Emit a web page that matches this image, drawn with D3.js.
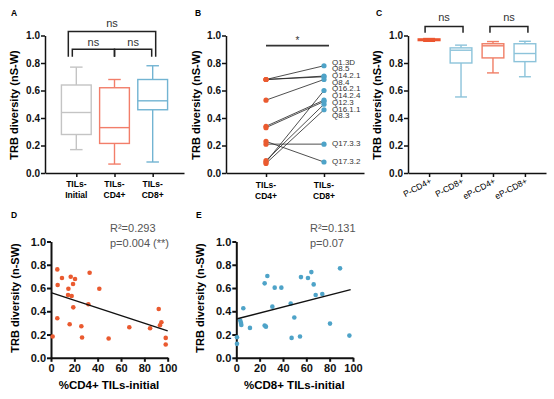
<!DOCTYPE html>
<html>
<head>
<meta charset="utf-8">
<script src="https://cdn.jsdelivr.net/npm/d3@7"></script>
<style>
  body { margin: 0; background: #fff; }
  svg { font-family: Arial, "Liberation Sans", Helvetica, sans-serif; }
</style>
</head>
<body>
<div id="chart"></div>
<script>
// ---- panel A : boxplots
const groupsA = ['TILs-Initial', 'TILs-CD4+', 'TILs-CD8+'];
const minA = [0.17, 0.065, 0.08];
const q1A = [0.28, 0.215, 0.46];
const medA = [0.44, 0.33, 0.525];
const q3A = [0.64, 0.62, 0.68];
const maxA = [0.77, 0.68, 0.78];
const colorsA = ['#c4c4c4', '#f27e6a', '#72b4d2'];

// ---- panel B : paired clones
const clonesB = ['Q1.3D', 'Q8.5', 'Q14.2.1', 'Q8.4', 'Q16.2.1', 'Q14.2.4', 'Q12.3', 'Q16.1.1', 'Q8.3', 'Q17.3.3', 'Q17.3.2'];
const cd4B = [0.68, 0.68, 0.68, 0.53, 0.08, 0.34, 0.33, 0.09, 0.07, 0.21, 0.23];
const cd8B = [0.78, 0.705, 0.70, 0.68, 0.60, 0.53, 0.52, 0.50, 0.46, 0.21, 0.08];
const groupsB = ['TILs-CD4+', 'TILs-CD8+'];

// ---- panel C : boxplots
const groupsC = ['P-CD4+', 'P-CD8+', 'eP-CD4+', 'eP-CD8+'];
const minC = [0.958, 0.553, 0.728, 0.70];
const q1C = [0.963, 0.80, 0.837, 0.81];
const medC = [0.97, 0.893, 0.925, 0.869];
const q3C = [0.975, 0.91, 0.94, 0.94];
const maxC = [0.978, 0.93, 0.956, 0.958];
const colorsC = ['#ec5630', '#8cc3da', '#f07e66', '#8cc3da'];

// ---- panel D : %CD4+ vs diversity
const xD = [1.4, 5.4, 5.7, 5.4, 9.4, 14.9, 14.6, 16.9, 17.7, 18.9, 20.6, 19.1, 16, 26, 26.6, 33.1, 32, 41.4, 49.4, 67.1, 84.9, 92.3, 94.6, 93.4, 98.3, 98.3];
const yD = [0.183, 0.76, 0.626, 0.34, 0.686, 0.594, 0.54, 0.697, 0.531, 0.634, 0.677, 0.434, 0.289, 0.271, 0.174, 0.731, 0.46, 0.594, 0.166, 0.263, 0.254, 0.42, 0.306, 0.28, 0.171, 0.114];
const fitXD = [0, 100];
const fitYD = [0.56, 0.232];

// ---- panel E : %CD8+ vs diversity
const xE = [0.6, 0.6, 3.4, 4, 4.3, 6, 11.7, 24.3, 26.6, 24.3, 25.4, 30.9, 32.9, 38.6, 46.6, 47.4, 49.7, 54.6, 55.4, 61.4, 64.3, 66.3, 68, 73.7, 80.3, 88.9, 96.9];
const yE = [0.177, 0.12, 0.32, 0.30, 0.283, 0.426, 0.257, 0.64, 0.703, 0.277, 0.268, 0.44, 0.603, 0.603, 0.466, 0.171, 0.346, 0.183, 0.694, 0.686, 0.737, 0.631, 0.54, 0.549, 0.294, 0.769, 0.191];
const fitXE = [0, 98];
const fitYE = [0.334, 0.586];

const yTicks = [0, 0.2, 0.4, 0.6, 0.8, 1.0];
const xTicksScatter = [0, 20, 40, 60, 80, 100];
const red = '#ea5a2f', blue = '#4ea3c8';

const svg = d3.select('#chart').append('svg')
  .attr('width', 554)
  .attr('height', 399)
  .style('background', '#fff');

function panelLabel(text, x, y) {
  svg.append('text').attr('x', x).attr('y', y)
    .style('font-size', '8.5px').style('font-weight', 'bold')
    .text(text);
}

function styleAxis(g, width, fontSize) {
  g.select('.domain').attr('stroke', '#111').attr('stroke-width', width);
  g.selectAll('.tick line').attr('stroke', '#111').attr('stroke-width', width);
  g.selectAll('.tick text').attr('fill', '#111')
    .style('font-size', fontSize).style('font-weight', 'bold');
}

function drawYAxis(y, x0, fontSize, width) {
  const g = svg.append('g')
    .attr('transform', 'translate(' + [x0, 0] + ')')
    .call(d3.axisLeft(y).tickValues(yTicks).tickFormat(d3.format('.1f')).tickSize(4).tickSizeOuter(0).tickPadding(1));
  styleAxis(g, width, fontSize);
  return g;
}

function yTitle(text, x, cy, fontSize) {
  svg.append('text')
    .attr('transform', 'translate(' + [x, cy] + ') rotate(-90)')
    .attr('text-anchor', 'middle')
    .attr('dominant-baseline', 'middle')
    .style('font-size', fontSize).style('font-weight', 'bold')
    .text(text);
}

function bracket(x1, x2, yTop, yLeg, label, labelY) {
  svg.append('path')
    .attr('d', 'M' + x1 + ',' + yLeg + 'V' + yTop + 'H' + x2 + 'V' + yLeg)
    .attr('fill', 'none').attr('stroke', '#222').attr('stroke-width', 1.5);
  svg.append('text').attr('x', (x1 + x2) / 2).attr('y', labelY)
    .attr('text-anchor', 'middle')
    .style('font-size', '11px').style('fill', '#333')
    .text(label);
}

// top row shared y scale
const yTop = d3.scaleLinear().domain([0, 1]).range([173, 35.5]);

function boxes(x, groups, mins, q1s, meds, q3s, maxs, colors, boxFrac, capFrac) {
  const step = x.step();
  const bw = step * boxFrac, cw = bw * capFrac;
  const g = svg.append('g').attr('class', 'boxes');
  groups.forEach((grp, i) => {
    const cx = x(grp), c = colors[i];
    const gb = g.append('g').attr('stroke', c).attr('stroke-width', 1.4).attr('fill', 'none');
    gb.append('line').attr('x1', cx).attr('x2', cx).attr('y1', yTop(maxs[i])).attr('y2', yTop(q3s[i]));
    gb.append('line').attr('x1', cx).attr('x2', cx).attr('y1', yTop(q1s[i])).attr('y2', yTop(mins[i]));
    gb.append('line').attr('x1', cx - cw / 2).attr('x2', cx + cw / 2).attr('y1', yTop(maxs[i])).attr('y2', yTop(maxs[i]));
    gb.append('line').attr('x1', cx - cw / 2).attr('x2', cx + cw / 2).attr('y1', yTop(mins[i])).attr('y2', yTop(mins[i]));
    gb.append('rect').attr('x', cx - bw / 2).attr('width', bw)
      .attr('y', yTop(q3s[i])).attr('height', Math.max(yTop(q1s[i]) - yTop(q3s[i]), 1))
      .attr('fill', '#fff');
    gb.append('line').attr('x1', cx - bw / 2).attr('x2', cx + bw / 2).attr('y1', yTop(meds[i])).attr('y2', yTop(meds[i]));
  });
}

// ================= Panel A
panelLabel('A', 11, 16);
const xA = d3.scalePoint().domain(groupsA).range([45, 184]).padding(0.82);
const gxA = svg.append('g').attr('transform', 'translate(0,' + yTop(0) + ')')
  .call(d3.axisBottom(xA).tickSize(4).tickSizeOuter(0).tickFormat(''));
styleAxis(gxA, 1.5, '10px');
drawYAxis(yTop, 45, '10px', 1.5);
yTitle('TRB diversity (nS-W)', 15, 105, '11px');
groupsA.forEach(grp => {
  const parts = grp.split('-');
  const t = svg.append('text').attr('x', xA(grp)).attr('y', 187).attr('text-anchor', 'middle')
    .style('font-size', '8.5px').style('font-weight', 'bold');
  t.append('tspan').attr('x', xA(grp)).attr('dy', 0).text(parts[0] + '-');
  t.append('tspan').attr('x', xA(grp)).attr('dy', 11).text(parts[1]);
});
boxes(xA, groupsA, minA, q1A, medA, q3A, maxA, colorsA, 0.78, 0.42);
bracket(xA(groupsA[0]) - 8, xA(groupsA[2]) + 3, yTop(1.03), yTop(0.845), 'ns', 27);
bracket(xA(groupsA[0]) - 4, xA(groupsA[1]), yTop(0.90), yTop(0.845), 'ns', 46);
bracket(xA(groupsA[1]), xA(groupsA[2]) - 1, yTop(0.90), yTop(0.845), 'ns', 46);

// ================= Panel B
panelLabel('B', 195, 16);
const xB = d3.scalePoint().domain(groupsB).range([226, 364]).padding(0.69);
const gxB = svg.append('g').attr('transform', 'translate(0,' + yTop(0) + ')')
  .call(d3.axisBottom(xB).tickSize(4).tickSizeOuter(0).tickFormat(''));
styleAxis(gxB, 1.5, '10px');
drawYAxis(yTop, 226, '10px', 1.5);
yTitle('TRB diversity (nS-W)', 197, 105, '11px');
groupsB.forEach(grp => {
  const parts = grp.split('-');
  const t = svg.append('text').attr('x', xB(grp)).attr('y', 188).attr('text-anchor', 'middle')
    .style('font-size', '8.5px').style('font-weight', 'bold');
  t.append('tspan').attr('x', xB(grp)).attr('dy', 0).text(parts[0] + '-');
  t.append('tspan').attr('x', xB(grp)).attr('dy', 11).text(parts[1]);
});
const bx0 = xB(groupsB[0]), bx1 = xB(groupsB[1]);
svg.append('g').selectAll('line').data(clonesB).join('line')
  .attr('x1', bx0).attr('x2', bx1)
  .attr('y1', (d, i) => yTop(cd4B[i])).attr('y2', (d, i) => yTop(cd8B[i]))
  .attr('stroke', '#222').attr('stroke-width', 0.8);
svg.append('g').selectAll('circle').data(cd4B).join('circle')
  .attr('cx', bx0).attr('cy', d => yTop(d)).attr('r', 2.6).attr('fill', red);
svg.append('g').selectAll('circle').data(cd8B).join('circle')
  .attr('cx', bx1).attr('cy', d => yTop(d)).attr('r', 2.6).attr('fill', blue);

// spread labels so they don't sit on top of each other
const gap = 6.7;
let clusters = [];
cd8B.forEach((v, i) => {
  clusters.push({ys: [yTop(v)], idx: [i], top: yTop(v)});
  while (clusters.length > 1) {
    const a = clusters[clusters.length - 2], b = clusters[clusters.length - 1];
    if (a.top + a.idx.length * gap <= b.top) break;
    const ys = a.ys.concat(b.ys), idx = a.idx.concat(b.idx);
    const top = d3.mean(ys) - (idx.length - 1) * gap / 2;
    clusters.splice(clusters.length - 2, 2, {ys: ys, idx: idx, top: top});
  }
});
const labelY = [];
clusters.forEach(c => c.idx.forEach((k, j) => { labelY[k] = c.top + j * gap; }));
svg.append('g').selectAll('text').data(clonesB).join('text')
  .attr('x', bx1 + 8).attr('y', (d, i) => labelY[i])
  .attr('dominant-baseline', 'middle')
  .style('font-size', '8px').style('fill', '#333')
  .text(d => d);
svg.append('line').attr('x1', bx0).attr('x2', bx1 + 5)
  .attr('y1', yTop(0.927)).attr('y2', yTop(0.927))
  .attr('stroke', '#333').attr('stroke-width', 1.8);
svg.append('text').attr('x', (bx0 + bx1 + 5) / 2).attr('y', 44)
  .attr('text-anchor', 'middle').style('font-size', '10px').style('fill', '#333').text('*');

// ================= Panel C
panelLabel('C', 376, 16);
const xC = d3.scalePoint().domain(groupsC).range([408, 546]).padding(0.66);
const gxC = svg.append('g').attr('transform', 'translate(0,' + yTop(0) + ')')
  .call(d3.axisBottom(xC).tickSize(4).tickSizeOuter(0).tickFormat(''));
styleAxis(gxC, 1.5, '10px');
drawYAxis(yTop, 408, '10px', 1.5);
yTitle('TRB diversity (nS-W)', 378, 105, '11px');
groupsC.forEach(grp => {
  svg.append('text')
    .attr('transform', 'translate(' + [xC(grp) + 3, 183] + ') rotate(-28)')
    .attr('text-anchor', 'end')
    .style('font-size', '8.5px')
    .text(grp);
});
boxes(xC, groupsC, minC, q1C, medC, q3C, maxC, colorsC, 0.68, 0.55);
bracket(xC(groupsC[0]) - 4, xC(groupsC[1]) + 2, yTop(1.066), yTop(1.02), 'ns', 21);
bracket(xC(groupsC[2]) - 3, xC(groupsC[3]) + 3, yTop(1.066), yTop(1.02), 'ns', 21);

// ================= Panels D / E
const yBot = d3.scaleLinear().domain([0, 1]).range([357.8, 241.5]);

function scatterPanel(label, lx, x0, xs, ys, fitX, fitY, color, xTitle, stats, statsX) {
  panelLabel(label, lx, 218);
  const x = d3.scaleLinear().domain([0, 100]).range([x0, x0 + 116.7]);
  const gx = svg.append('g').attr('transform', 'translate(0,' + yBot(0) + ')')
    .call(d3.axisBottom(x).tickValues(xTicksScatter).tickSize(4).tickSizeOuter(0).tickPadding(2));
  styleAxis(gx, 2, '11px');
  drawYAxis(yBot, x0, '11px', 2).selectAll('.tick text').style('font-size', '11px');
  yTitle('TRB diversity (n-SW)', lx + 5, 298, '11px');
  svg.append('text').attr('x', x0 + 58).attr('y', 389).attr('text-anchor', 'middle')
    .style('font-size', '11.5px').style('font-weight', 'bold').text(xTitle);
  svg.append('g').selectAll('circle').data(xs).join('circle')
    .attr('cx', d => x(d)).attr('cy', (d, i) => yBot(ys[i])).attr('r', 2.3).attr('fill', color);
  svg.append('line')
    .attr('x1', x(fitX[0])).attr('y1', yBot(fitY[0]))
    .attr('x2', x(fitX[1])).attr('y2', yBot(fitY[1]))
    .attr('stroke', '#111').attr('stroke-width', 1.4);
  stats.forEach((s, i) => {
    svg.append('text').attr('x', statsX).attr('y', 232 + i * 15)
      .style('font-size', '11px').style('fill', '#555').text(s);
  });
}

scatterPanel('D', 11, 51, xD, yD, fitXD, fitYD, red, '%CD4+ TILs-initial', ['R²=0.293', 'p=0.004 (**)'], 110);
scatterPanel('E', 196, 236.3, xE, yE, fitXE, fitYE, blue, '%CD8+ TILs-initial', ['R²=0.131', 'p=0.07'], 310);
</script>
</body>
</html>
